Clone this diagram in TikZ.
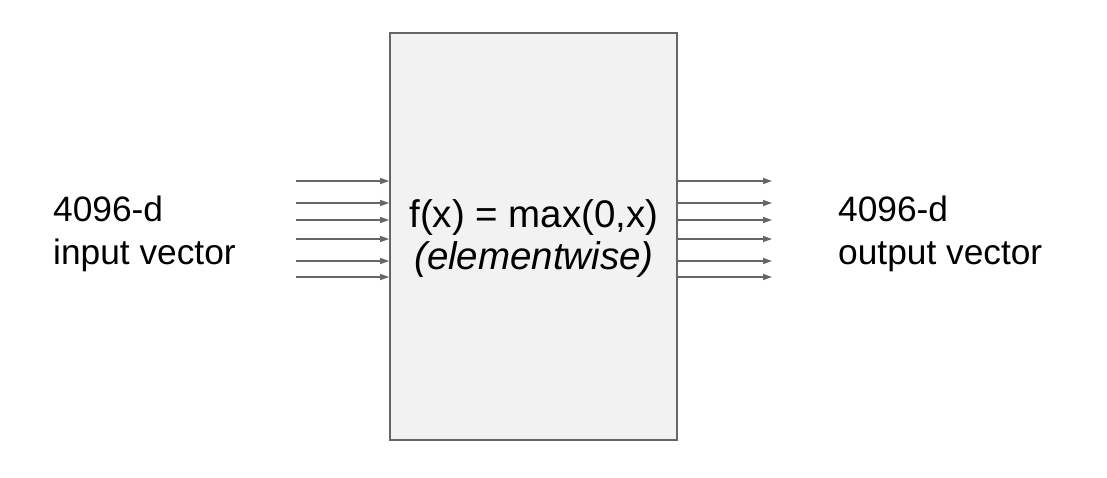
\documentclass[tikz,border=0pt]{standalone}
\usepackage{fontspec}
\setmainfont{Liberation Sans}
\definecolor{reluGray}{HTML}{666666}
\definecolor{reluFill}{HTML}{F2F2F2}
\usetikzlibrary{arrows.meta, positioning}

\begin{document}
\begin{tikzpicture}[x=1pt, y=-1pt,
  every node/.style={font=\fontsize{35.3}{43}\selectfont, align=left, inner sep=0pt},
  box/.style={rectangle, draw=reluGray, fill=reluFill, line width=1.6pt,
              minimum width=287pt, minimum height=407pt},
  fn/.style={font=\fontsize{38.5}{42}\selectfont, align=center},
  arr/.style={-{Triangle[length=9pt, width=6pt]}, line width=1.3pt, color=reluGray}
]
  \useasboundingbox (0,0) rectangle (1107,477);

  \node[box] (relu) at (533.5,236.5) {};
  \node[fn] (fx) at (534,239) {f(x) = max(0,x)\\\textit{(elementwise)}};
  \node[anchor=west] (in)  at (53,234.3)  {4096-d\\input vector};
  \node[anchor=west] (out) at (838,234.3) {4096-d\\output vector};

  % one arrow per vector element, in and out
  \foreach \i/\y in {1/181, 2/203, 3/220, 4/239, 5/261, 6/277} {
    \coordinate (src\i) at (296,\y);
    \coordinate (dst\i) at (772,\y);
    \draw[arr] (src\i) -- (src\i -| relu.west);
    \draw[arr] (src\i -| relu.east) -- (dst\i);
  }
\end{tikzpicture}
\end{document}
